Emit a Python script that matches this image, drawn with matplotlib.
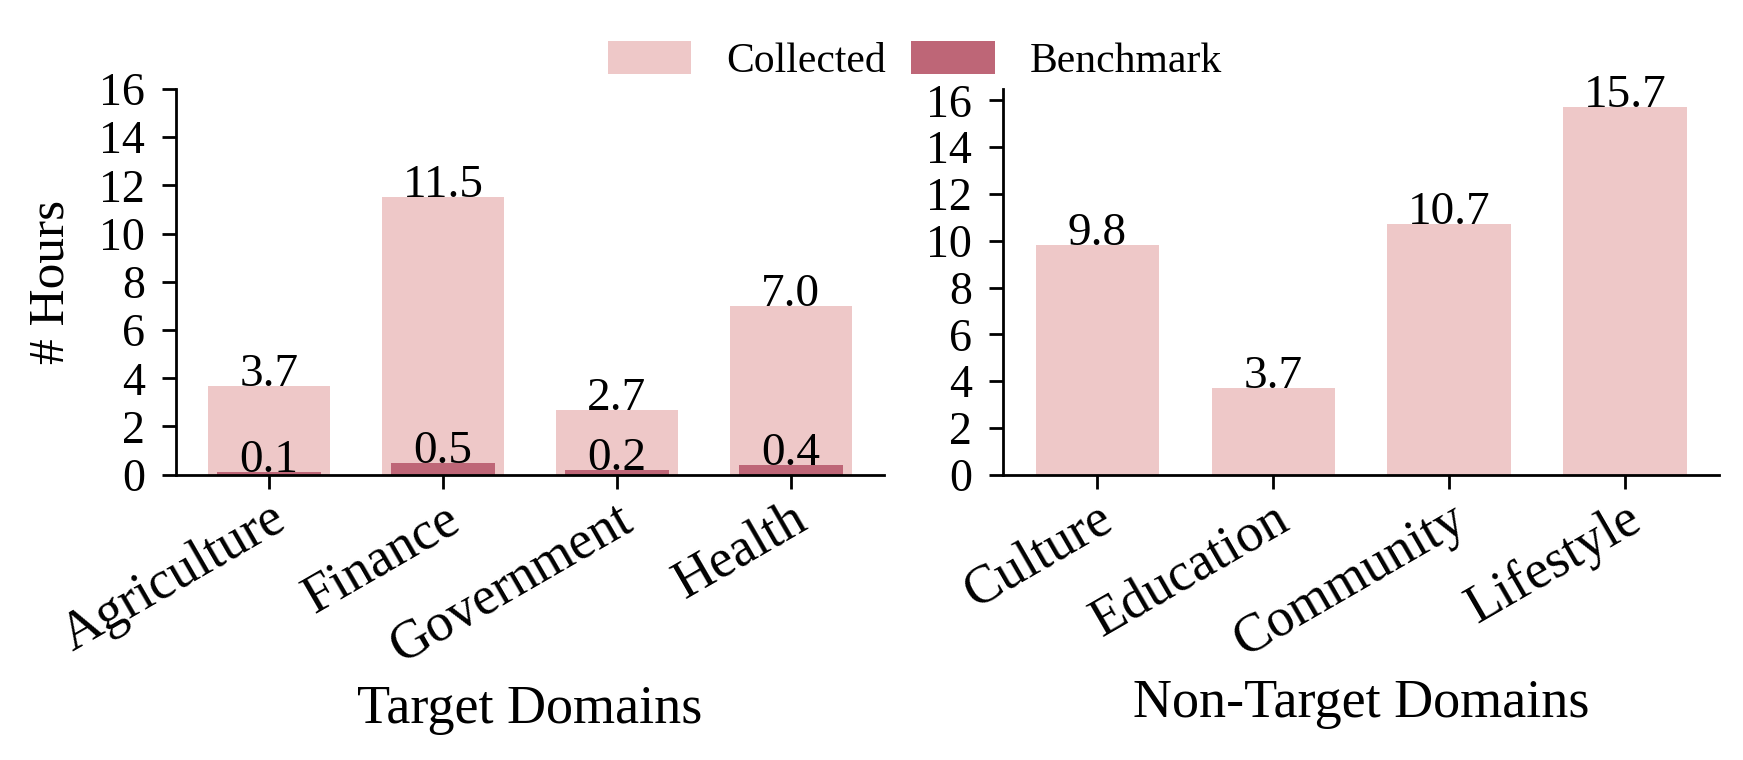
import matplotlib
import matplotlib.pyplot as plt
import numpy as np

plt.rcParams['font.family'] = 'Liberation Serif'
plt.rcParams['font.size'] = 16
plt.rcParams['axes.linewidth'] = 1.0

target = ["Agriculture", "Finance", "Government", "Health"]
target_collected = [3.7, 11.5, 2.7, 7.0]
target_benchmark = [0.1, 0.5, 0.2, 0.4]

nontarget = ["Culture", "Education", "Community", "Lifestyle"]
nontarget_collected = [9.8, 3.7, 10.7, 15.7]

c_col = '#EEC8C8'
c_ben = '#BE6677'

fig = plt.figure(figsize=(8.715, 3.8), dpi=200)
ax1 = fig.add_axes([0.101, 0.3754, 0.406, 0.5075])
ax2 = fig.add_axes([0.5755, 0.3754, 0.4108, 0.5075])

ind = np.arange(4)

b1 = ax1.bar(ind, target_collected, 0.7, color=c_col, label='Collected')
b2 = ax1.bar(ind, target_benchmark, 0.6, color=c_ben, label='Benchmark')
for x, v in zip(ind, target_collected):
    ax1.text(x, v, f"{v:.1f}", ha='center', va='baseline', fontsize=17)
for x, v in zip(ind, target_benchmark):
    ax1.text(x, v, f"{v:.1f}", ha='center', va='baseline', fontsize=17)
ax1.set_ylim(0, 16)
ax1.set_yticks(np.arange(0, 17, 2))
ax1.set_ylabel('# Hours', fontsize=18.5, labelpad=9)
ax1.set_xlabel('Target Domains', fontsize=19.5)
ax1.set_xticks(ind)
ax1.set_xticklabels(target, rotation=30, ha='right', rotation_mode='anchor', fontsize=19.5)

ax2.bar(ind, nontarget_collected, 0.7, color=c_col)
for x, v in zip(ind, nontarget_collected):
    ax2.text(x, v, f"{v:.1f}", ha='center', va='baseline', fontsize=17)
ax2.set_yticks(np.arange(0, 17, 2))
ax2.set_xlabel('Non-Target Domains', fontsize=19.5)
ax2.set_xticks(ind)
ax2.set_xticklabels(nontarget, rotation=30, ha='right', rotation_mode='anchor', fontsize=19.5)

for ax in (ax1, ax2):
    ax.spines['top'].set_visible(False)
    ax.spines['right'].set_visible(False)
    ax.tick_params(axis='y', labelsize=16.5, length=5.2, width=1.0, pad=6)
    ax.tick_params(axis='x', length=5.0, width=1.0, pad=2.0)

fig.legend(handles=[b1, b2], loc='center', bbox_to_anchor=(0.525, 0.92),
           ncol=2, frameon=False, fontsize=15, handlelength=2.0,
           handleheight=0.85, handletextpad=0.85, columnspacing=0.6)

plt.savefig('out.png', dpi=200)
